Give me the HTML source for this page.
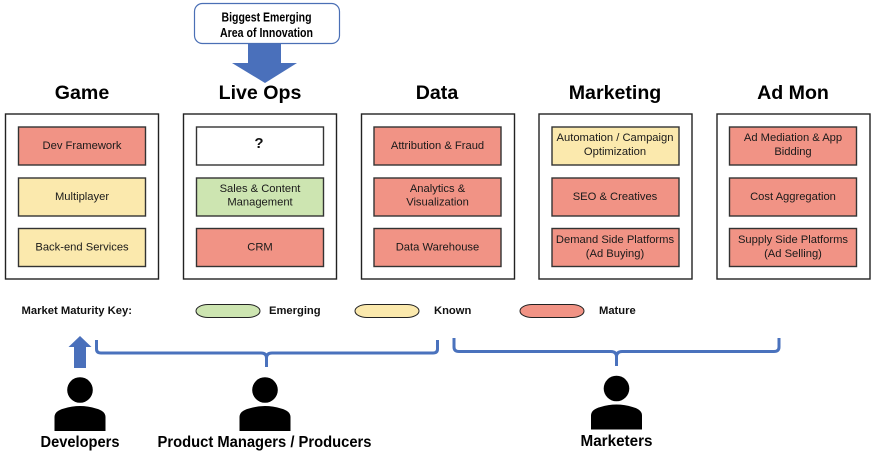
<!DOCTYPE html>
<html><head><meta charset="utf-8"><style>
html,body{margin:0;padding:0;background:#fff;width:875px;height:456px;overflow:hidden}
svg{display:block;filter:blur(.35px)}
text{font-family:"Liberation Sans",sans-serif;text-anchor:middle;fill:#1a1a1a}
.h{font-size:19.600px;font-weight:bold;fill:#000}
.t{font-size:11.200px}
.k{font-size:11.200px;font-weight:bold;fill:#111;text-anchor:start}
.b{font-size:15.500px;font-weight:bold;fill:#000}
.c{font-size:12.500px;font-weight:bold;fill:#000}
.o{fill:#fff;stroke:#222;stroke-width:1.4}
.r{stroke:#333;stroke-width:1.4}
.red{fill:#f19385}.yel{fill:#fbe9ad}.grn{fill:#cde5b1}.wht{fill:#fff}
.br{fill:none;stroke:#4a72bd;stroke-width:3}
</style></head><body>
<svg width="875" height="456" viewBox="0 0 875 456" xmlns="http://www.w3.org/2000/svg">
<rect x="194.500" y="3.500" width="145" height="40" rx="8" fill="#fff" stroke="#4a6fb5" stroke-width="1.200"/>
<path d="M248 44H281V63H297L265 83L232 63H248Z" fill="#4a70bb"/>
<text class="c" x="266.500" y="21.500" textLength="90" lengthAdjust="spacingAndGlyphs">Biggest Emerging</text>
<text class="c" x="266.500" y="37" textLength="93" lengthAdjust="spacingAndGlyphs">Area of Innovation</text>

<text class="h" x="82" y="99">Game</text>
<text class="h" x="260" y="99">Live Ops</text>
<text class="h" x="437" y="99">Data</text>
<text class="h" x="615" y="99">Marketing</text>
<text class="h" x="793" y="99">Ad Mon</text>

<rect class="o" x="5.500" y="114" width="153" height="165"/>
<rect class="o" x="183.500" y="114" width="153" height="165"/>
<rect class="o" x="361.500" y="114" width="153" height="165"/>
<rect class="o" x="539" y="114" width="153" height="165"/>
<rect class="o" x="717" y="114" width="153" height="165"/>

<rect class="r red" x="18.500" y="127" width="127" height="38"/>
<rect class="r yel" x="18.500" y="178" width="127" height="38"/>
<rect class="r yel" x="18.500" y="228.500" width="127" height="38"/>
<rect class="r wht" x="196.500" y="127" width="127" height="38"/>
<rect class="r grn" x="196.500" y="178" width="127" height="38"/>
<rect class="r red" x="196.500" y="228.500" width="127" height="38"/>
<rect class="r red" x="374" y="127" width="127" height="38"/>
<rect class="r red" x="374" y="178" width="127" height="38"/>
<rect class="r red" x="374" y="228.500" width="127" height="38"/>
<rect class="r yel" x="552" y="127" width="127" height="38"/>
<rect class="r red" x="552" y="178" width="127" height="38"/>
<rect class="r red" x="552" y="228.500" width="127" height="38"/>
<rect class="r red" x="729.500" y="127" width="127" height="38"/>
<rect class="r red" x="729.500" y="178" width="127" height="38"/>
<rect class="r red" x="729.500" y="228.500" width="127" height="38"/>

<text class="t" x="82" y="149">Dev Framework</text>
<text class="t" x="82" y="200">Multiplayer</text>
<text class="t" x="82" y="250.500">Back-end Services</text>
<text x="259" y="148" style="font-size:15px;font-weight:bold;fill:#111">?</text>
<text class="t" x="260" y="192">Sales &amp; Content</text>
<text class="t" x="260" y="205.500">Management</text>
<text class="t" x="260" y="250.500">CRM</text>
<text class="t" x="437.500" y="149">Attribution &amp; Fraud</text>
<text class="t" x="437.500" y="192">Analytics &amp;</text>
<text class="t" x="437.500" y="205.500">Visualization</text>
<text class="t" x="437.500" y="250.500">Data Warehouse</text>
<text class="t" x="615" y="141">Automation / Campaign</text>
<text class="t" x="615" y="155">Optimization</text>
<text class="t" x="615" y="200">SEO &amp; Creatives</text>
<text class="t" x="615" y="243">Demand Side Platforms</text>
<text class="t" x="615" y="257">(Ad Buying)</text>
<text class="t" x="793" y="141">Ad Mediation &amp; App</text>
<text class="t" x="793" y="155">Bidding</text>
<text class="t" x="793" y="200">Cost Aggregation</text>
<text class="t" x="793" y="243">Supply Side Platforms</text>
<text class="t" x="793" y="257">(Ad Selling)</text>

<text class="k" x="21.500" y="314" textLength="110.500" lengthAdjust="spacingAndGlyphs">Market Maturity Key:</text>
<rect x="196" y="304.500" width="64" height="13" rx="12" ry="6.500" fill="#cde5b1" stroke="#222" stroke-width="1"/>
<text class="k" x="269" y="314">Emerging</text>
<rect x="355" y="304.500" width="64" height="13" rx="12" ry="6.500" fill="#fbe9ad" stroke="#222" stroke-width="1"/>
<text class="k" x="434" y="314">Known</text>
<rect x="520" y="304.500" width="64" height="13" rx="12" ry="6.500" fill="#f19385" stroke="#222" stroke-width="1"/>
<text class="k" x="599" y="314">Mature</text>

<path d="M74 368V347H68.500L80 336L91.500 347H86V368Z" fill="#4a70bb"/>
<path class="br" d="M96.500 340V349Q96.500 353 101 353H261Q266.500 353 266.500 358V367M266.500 358Q266.500 353 272 353H433Q437.500 353 437.500 349V340"/>
<path class="br" d="M454 338V347Q454 351.500 459 351.500H611Q616.500 351.500 616.500 357V366M616.500 357Q616.500 351.500 622 351.500H774Q779 351.500 779 347V338"/>

<g fill="#000">
<circle cx="80" cy="390" r="12.800"/><path d="M54.500 431V417Q54.500 411 64 408.500Q72 406 80 406Q88 406 96 408.500Q105.500 411 105.500 417V431Z"/>
<circle cx="265" cy="390" r="12.800"/><path d="M239.500 431V417Q239.500 411 249 408.500Q257 406 265 406Q273 406 281 408.500Q290.500 411 290.500 417V431Z"/>
<circle cx="616.500" cy="388.500" r="12.800"/><path d="M591 429.500V415.500Q591 409.500 600.500 407Q608.500 404.500 616.500 404.500Q624.500 404.500 632.500 407Q642 409.500 642 415.500V429.500Z"/>
</g>
<text class="b" x="80" y="447" textLength="79" lengthAdjust="spacingAndGlyphs">Developers</text>
<text class="b" x="264.500" y="447" textLength="214" lengthAdjust="spacingAndGlyphs">Product Managers / Producers</text>
<text class="b" x="616.500" y="446" textLength="72" lengthAdjust="spacingAndGlyphs">Marketers</text>
</svg>
</body></html>
